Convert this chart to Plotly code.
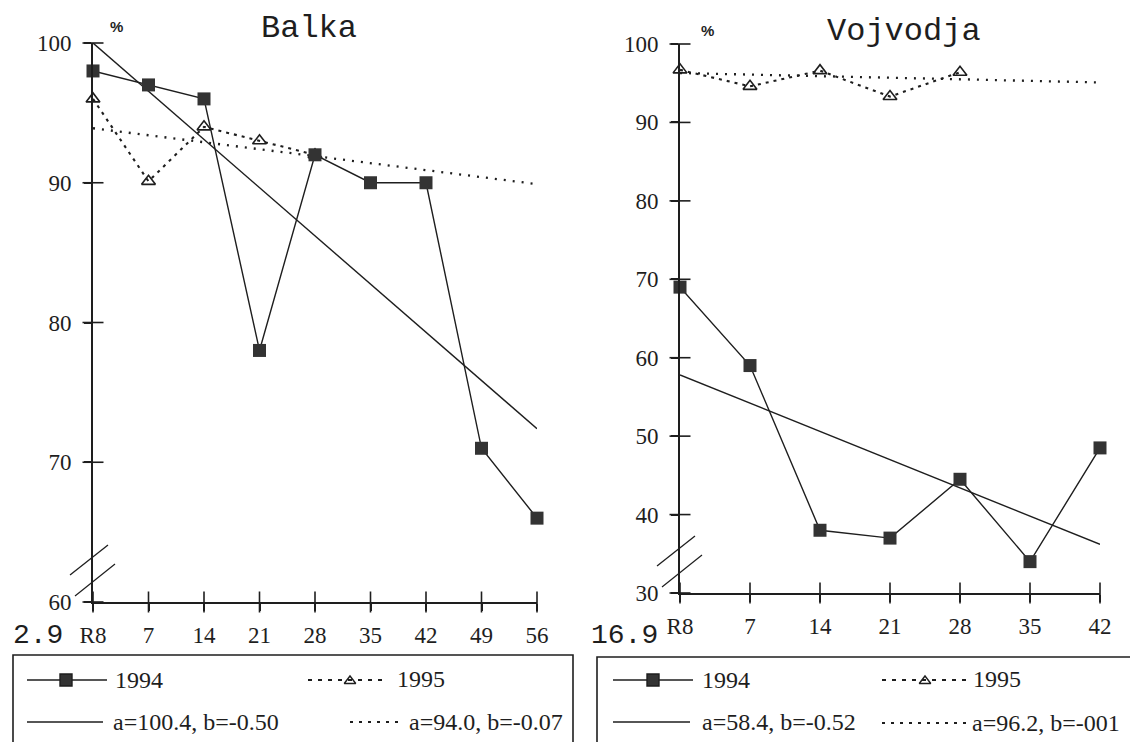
import plotly.graph_objects as go

# ---------------- data ----------------
days_balka = [0, 7, 14, 21, 28, 35, 42, 49, 56]
labels_balka = ["R8", "7", "14", "21", "28", "35", "42", "49", "56"]
balka_1994 = [98, 97, 96, 78, 92, 90, 90, 71, 66]
days_balka_1995 = [0, 7, 14, 21, 28]
balka_1995 = [96.0, 90.1, 94.0, 93.0, 92.0]
trend_days_balka = [0, 56]
balka_trend_1994 = [100.0, 72.4]
balka_trend_1995 = [93.9, 89.9]
yticks_balka = [60, 70, 80, 90, 100]

days_vojv = [0, 7, 14, 21, 28, 35, 42]
labels_vojv = ["R8", "7", "14", "21", "28", "35", "42"]
vojv_1994 = [69, 59, 38, 37, 44.5, 34, 48.5]
days_vojv_1995 = [0, 7, 14, 21, 28]
vojv_1995 = [96.7, 94.6, 96.6, 93.3, 96.4]
trend_days_vojv = [0, 42]
vojv_trend_1994 = [57.8, 36.2]
vojv_trend_1995 = [96.3, 95.1]
yticks_vojv = [30, 40, 50, 60, 70, 80, 90, 100]

W, H = 1130, 742
INK = "#1e1e1e"
SERIF = "Liberation Serif, Times New Roman, serif"
MONO = "Liberation Mono, Courier New, monospace"


def px(x):
    return x / W


def py(y):
    return 1 - y / H


fig = go.Figure()

def add_panel(xa, ya, d, v94, d95, v95, td, t94, t95, yt):
    fig.add_trace(go.Scatter(x=td, y=t94, mode="lines", xaxis=xa, yaxis=ya,
                             line=dict(color=INK, width=1.4), showlegend=False))
    fig.add_trace(go.Scatter(x=td, y=t95, mode="lines", xaxis=xa, yaxis=ya,
                             line=dict(color=INK, width=2.3, dash="2px,7px"), showlegend=False))
    fig.add_trace(go.Scatter(x=d95, y=v95, mode="lines+markers", xaxis=xa, yaxis=ya,
                             line=dict(color=INK, width=2.1, dash="3px,5px"),
                             marker=dict(symbol="triangle-up-open", size=12, color=INK,
                                         line=dict(width=1.6, color=INK)),
                             cliponaxis=False, showlegend=False))
    fig.add_trace(go.Scatter(x=d, y=v94, mode="lines+markers", xaxis=xa, yaxis=ya,
                             line=dict(color=INK, width=1.4),
                             marker=dict(symbol="square", size=13, color="#333333",
                                         line=dict(width=0)),
                             cliponaxis=False, showlegend=False))
    # tick marks crossing the axes
    fig.add_trace(go.Scatter(x=d, y=[yt[0]] * len(d), mode="markers", xaxis=xa, yaxis=ya,
                             marker=dict(symbol="line-ns-open", size=15, color=INK,
                                         line=dict(color=INK, width=1.6)),
                             cliponaxis=False, showlegend=False, hoverinfo="skip"))
    fig.add_trace(go.Scatter(x=[0] * len(yt), y=yt, mode="markers", xaxis=xa, yaxis=ya,
                             marker=dict(symbol="line-ew-open", size=15, color=INK,
                                         line=dict(color=INK, width=1.6)),
                             cliponaxis=False, showlegend=False, hoverinfo="skip"))


add_panel("x", "y", days_balka, balka_1994, days_balka_1995, balka_1995,
          trend_days_balka, balka_trend_1994, balka_trend_1995, yticks_balka)
add_panel("x2", "y2", days_vojv, vojv_1994, days_vojv_1995, vojv_1995,
          trend_days_vojv, vojv_trend_1994, vojv_trend_1995, yticks_vojv)

# ---------------- legend samples (overlay axis in pixel space) ----------------
def leg_line(x0, x1, y, dash="solid", width=1.4):
    fig.add_trace(go.Scatter(x=[x0, x1], y=[y, y], mode="lines", xaxis="x3", yaxis="y3",
                             line=dict(color=INK, width=width, dash=dash),
                             showlegend=False, hoverinfo="skip"))

def leg_marker(x, y, symbol, size, fill):
    fig.add_trace(go.Scatter(x=[x], y=[y], mode="markers", xaxis="x3", yaxis="y3",
                             marker=dict(symbol=symbol, size=size, color=fill,
                                         line=dict(width=1.4, color=INK)),
                             cliponaxis=False, showlegend=False, hoverinfo="skip"))

# left legend
leg_line(27, 107, 680)
leg_marker(66, 680, "square", 12, "#333333")
leg_line(308, 386, 680, dash="4px,6px", width=1.8)
leg_marker(350, 681, "triangle-up-open", 10, INK)
leg_line(27, 103, 722)
leg_line(350, 402, 722, dash="3px,6px", width=2)
# right legend
leg_line(613, 693, 680)
leg_marker(653, 680, "square", 12, "#333333")
leg_line(882, 966, 680, dash="4px,6px", width=1.8)
leg_marker(925, 681, "triangle-up-open", 10, INK)
leg_line(613, 690, 722)
leg_line(882, 966, 723, dash="3px,6px", width=2)

annotations = []

def text(x, y, s, size=24, font=SERIF, anchor="left", bold=False):
    annotations.append(dict(x=px(x), y=py(y), xref="paper", yref="paper", text=s,
                            showarrow=False, xanchor=anchor, yanchor="middle",
                            font=dict(family=font, size=size, color=INK,
                                      weight="bold" if bold else "normal")))

text(113, 680, "1994")
text(395, 679, "1995")
text(111, 722, "a=100.4, b=-0.50")
text(407, 722, "a=94.0, b=-0.07")
text(700, 680, "1994")
text(971, 679, "1995")
text(700, 722, "a=58.4, b=-0.52")
text(970, 723, "a=96.2, b=-001")

text(309, 29, "Balka", size=32, font=MONO, anchor="center")
text(904, 31, "Vojvodja", size=32, font=MONO, anchor="center")
text(116, 26, "%", size=15, font="Liberation Sans, Arial, sans-serif", anchor="center", bold=True)
text(707, 30, "%", size=15, font="Liberation Sans, Arial, sans-serif", anchor="center", bold=True)
text(38, 635, "2.9", size=28, font=MONO, anchor="center")
text(624, 635, "16.9", size=28, font=MONO, anchor="center")

shapes = []
# legend boxes
shapes.append(dict(type="rect", xref="paper", yref="paper", x0=px(13), x1=px(573),
                   y0=py(760), y1=py(655), line=dict(color=INK, width=1.6)))
shapes.append(dict(type="rect", xref="paper", yref="paper", x0=px(597), x1=px(1150),
                   y0=py(760), y1=py(657), line=dict(color=INK, width=1.6)))
# axis break marks
for (ax, ay) in [(93, 602), (680, 593)]:
    shapes.append(dict(type="line", xref="paper", yref="paper",
                       x0=px(ax - 23), y0=py(ay - 27), x1=px(ax + 15), y1=py(ay - 57),
                       line=dict(color=INK, width=1.3)))
    shapes.append(dict(type="line", xref="paper", yref="paper",
                       x0=px(ax - 18), y0=py(ay - 6), x1=px(ax + 22), y1=py(ay - 38),
                       line=dict(color=INK, width=1.3)))

axis_common = dict(showgrid=False, zeroline=False, showline=True, linecolor=INK,
                   linewidth=1.6, ticks="outside", ticklen=7, tickcolor=INK, tickwidth=1.6,
                   automargin=False,
                   tickfont=dict(family=SERIF, size=23, color=INK))

fig.update_layout(
    template="none",
    width=W, height=H,
    margin=dict(l=0, r=0, t=0, b=0, pad=0),
    paper_bgcolor="white", plot_bgcolor="rgba(0,0,0,0)",
    showlegend=False,
    xaxis=dict(axis_common, domain=[px(93), px(537)], range=[0, 56], anchor="y",
               tickvals=days_balka, ticktext=labels_balka, ticklabelstandoff=5),
    yaxis=dict(axis_common, domain=[py(602), py(43)], range=[60, 100], anchor="x",
               tickvals=yticks_balka, ticklabelstandoff=8),
    xaxis2=dict(axis_common, domain=[px(680), px(1100)], range=[0, 42], anchor="y2",
                tickvals=days_vojv, ticktext=labels_vojv, ticklabelstandoff=5),
    yaxis2=dict(axis_common, domain=[py(593), py(44)], range=[30, 100], anchor="x2",
                tickvals=yticks_vojv, ticklabelstandoff=8),
    xaxis3=dict(domain=[0, 1], range=[0, W], visible=False, anchor="y3", fixedrange=True,
                automargin=False),
    yaxis3=dict(domain=[0, 1], range=[H, 0], visible=False, anchor="x3", fixedrange=True,
                automargin=False),
    annotations=annotations,
    shapes=shapes,
)

fig.write_html("out.html", config={"displayModeBar": False},
               post_script="document.body.style.margin='0';document.body.style.overflow='hidden';")
